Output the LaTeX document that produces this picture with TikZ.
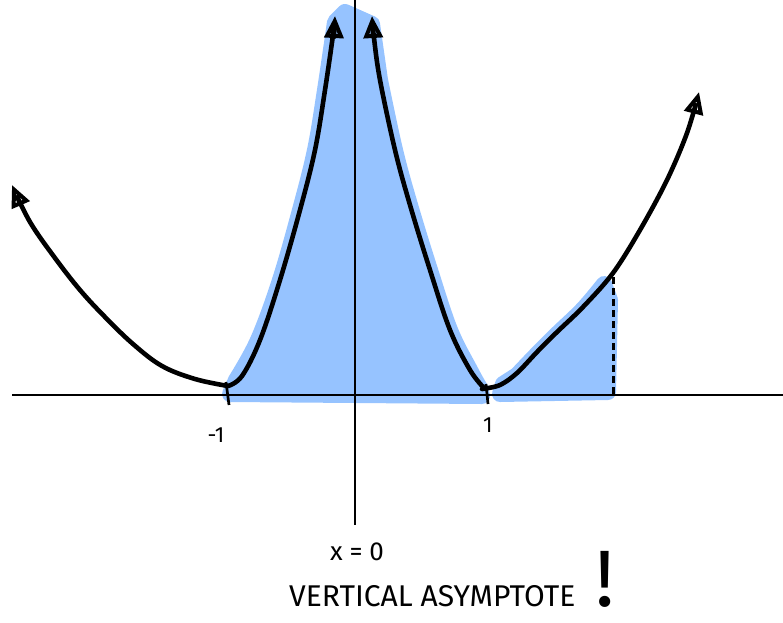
\documentclass[tikz,border=0pt]{standalone}
\usepackage{fontspec}
\setmainfont{Fira Sans}
\usetikzlibrary{arrows.meta}
\definecolor{shade}{RGB}{150,195,255}
\tikzset{
  curve/.style={line width=4.6pt, line cap=round, line join=round},
  tip/.style={-{Triangle[open,length=22pt,width=19pt,line width=4pt]}},
  axis/.style={line width=2.7pt},
  blob/.style={fill=shade, draw=shade, line width=16pt, line join=round},
  lbl/.style={inner sep=0pt, font=\fontsize{22}{22}\selectfont}
}
\begin{document}
\begin{tikzpicture}[x=1pt,y=-1pt]
\useasboundingbox (0,0) rectangle (783,622);
% blue regions
\fill[blob] (230,394) -- plot[smooth,tension=0.6] coordinates {(236,380) (258,340) (280,280) (300,210) (315,150) (325,90) (335,22)}
  -- (345,12) -- (372,24)
  -- plot[smooth,tension=0.6] coordinates {(380,80) (395,150) (410,205) (430,270) (450,330) (470,370) (480,388)}
  -- (482,396) -- cycle;
\fill[blob] (500,394) -- (503,384) -- plot[smooth,tension=0.6] coordinates {(517,375) (537,354) (557,334) (583,309) (604,284)} -- (610,300) -- (608,392) -- cycle;
% axes
\coordinate (xl) at (12,395);
\coordinate (xr) at (783,395);
\coordinate (yt) at (355,0);
\coordinate (yb) at (355,525);
\draw[axis] (xl) -- (xr);
\draw[axis] (yt) -- (yb);
% ticks
\coordinate (t1a) at (226,382); \coordinate (t1b) at (229,405);
\coordinate (t2a) at (486,384); \coordinate (t2b) at (488,404);
\draw[axis] (t1a) -- (t1b);
\draw[axis] (t2a) -- (t2b);
% dashed line
\coordinate (da) at (613,277); \coordinate (db) at (613,395);
\draw[line width=3pt, dash pattern=on 7pt off 4pt] (da) -- (db);
% curves
\draw[curve,tip] plot[smooth,tension=0.6] coordinates {(228,386) (195,379) (162,366) (133,344) (105,317) (80,290) (55,258) (30,222) (12,185)};
\draw[curve,tip] plot[smooth,tension=0.6] coordinates {(228,386) (242,376) (260,340) (280,280) (300,210) (315,150) (325,90) (333,35) (335,16)};
\draw[curve,tip] plot[smooth,tension=0.6] coordinates {(484,388) (470,370) (450,330) (430,270) (410,205) (395,150) (380,80) (374,38) (372,16)};
\draw[curve,tip] plot[smooth,tension=0.55] coordinates {(482,389) (500,385) (517,373) (537,352) (557,332) (583,307) (613,273) (640,230) (667,180) (687,133) (699,92)};
% labels
\node[lbl] (m1) at (216,435) {-1};
\node[lbl] (p1) at (488,425) {1};
\node[lbl, font=\fontsize{26}{26}\selectfont] (x0) at (357,552) {x = 0};
\node[lbl, font=\fontsize{30}{30}\selectfont, anchor=base west] (va) at (289,606) {VERTICAL ASYMPTOTE\hspace{20pt}{\fontsize{80}{80}\selectfont !}};
\end{tikzpicture}
\end{document}
